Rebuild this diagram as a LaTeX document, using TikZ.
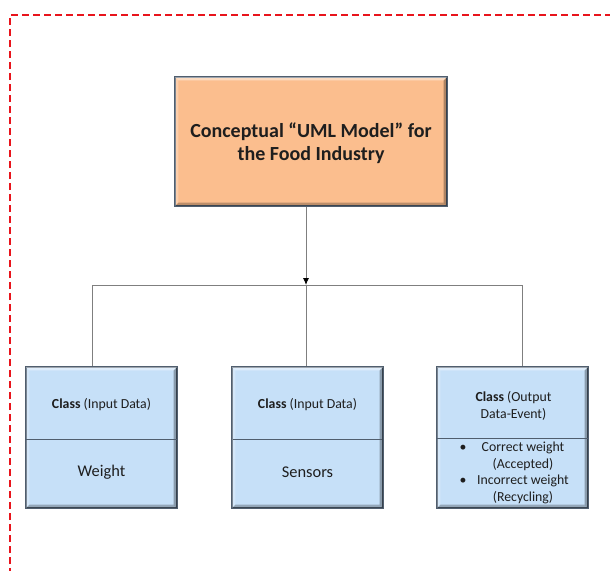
\documentclass[tikz,border=0pt]{standalone}
\usepackage{fontspec}
\setmainfont{Carlito}
\usetikzlibrary{arrows.meta,calc}
\definecolor{orangefill}{HTML}{FBBE8E}
\definecolor{bluefill}{HTML}{C6E0F8}
\definecolor{boxborder}{HTML}{505E6E}
\definecolor{conn}{HTML}{7F7F7F}
\definecolor{txt}{HTML}{1E1E1E}
\definecolor{dashred}{HTML}{E8141C}
\tikzset{
  topbox/.style={draw=boxborder, line width=1.2pt, fill=orangefill, minimum width=272pt, minimum height=129pt, inner sep=0pt},
  classbox/.style={draw=boxborder, line width=1.2pt, fill=bluefill, minimum width=151pt, minimum height=141pt, inner sep=0pt},
  connector/.style={draw=conn, line width=0.9pt},
  label/.style={text=txt, align=center, inner sep=0pt},
  divider/.style={draw=boxborder, line width=0.9pt},
  frame/.style={draw=dashred, line width=1.1pt, dash pattern=on 7pt off 4pt},
}
\newcommand{\bevel}[1]{%
  \fill[white, opacity=0.45] (#1.north west) -- (#1.north east) -- ([shift={(-4,4)}]#1.north east) -- ([shift={(4,4)}]#1.north west) -- cycle;
  \fill[white, opacity=0.25] (#1.north west) -- ([shift={(4,4)}]#1.north west) -- ([shift={(4,-4)}]#1.south west) -- (#1.south west) -- cycle;
  \fill[black, opacity=0.25] (#1.south west) -- (#1.south east) -- ([shift={(-4,-4)}]#1.south east) -- ([shift={(4,-4)}]#1.south west) -- cycle;
  \fill[black, opacity=0.3] (#1.north east) -- (#1.south east) -- ([shift={(-4,-4)}]#1.south east) -- ([shift={(-4,4)}]#1.north east) -- cycle;
  \draw[boxborder, line width=1.2pt] (#1.north west) rectangle (#1.south east);
}
\begin{document}
\begin{tikzpicture}[x=1pt, y=-1pt]
\useasboundingbox (0,0) rectangle (610,570);
\fill[white] (0,0) rectangle (610,570);
% dashed frame
\draw[frame] (10,575) -- (10,15) -- (615,15);

% top box
\node[topbox] (top) at (311,141.5) {};
\bevel{top}
\node[label, font=\bfseries\fontsize{20}{23}\selectfont] (toptext) at (311,143) {Conceptual “UML Model” for\\the Food Industry};

% class boxes
\node[classbox] (c1) at (101.5,437.5) {};
\node[classbox] (c2) at (307.5,437.5) {};
\node[classbox] (c3) at (512.5,437.5) {};
\bevel{c1}
\bevel{c2}
\bevel{c3}
\draw[divider] (26,439) -- (177,439);
\draw[divider] (233,439) -- (382,439);
\draw[divider] (437,438) -- (588,438);

% connectors
\coordinate (junction) at (306,285);
\coordinate (bl) at (92,285);
\coordinate (br) at (522,285);
\draw[connector, -{Latex[length=7pt,width=6pt,black]}] (top.south -| junction) -- (junction);
\draw[connector] (bl) -- (br);
\draw[connector] (bl) -- (c1.north -| bl);
\draw[connector] (junction) -- (c2.north -| junction);
\draw[connector] (br) -- (c3.north -| br);

% texts
\node[label, font=\fontsize{13.8}{16}\selectfont] (t1a) at (101.5,405) {\textbf{Class} (Input Data)};
\node[label, font=\fontsize{16.4}{18}\selectfont] (t1b) at (101.5,472) {Weight};
\node[label, font=\fontsize{13.8}{16}\selectfont] (t2a) at (307.5,405) {\textbf{Class} (Input Data)};
\node[label, font=\fontsize{16.4}{18}\selectfont] (t2b) at (307.5,472) {Sensors};
\node[label, font=\fontsize{13.8}{17}\selectfont] (t3a) at (513.5,405.5) {\textbf{Class} (Output\\Data-Event)};
\node[label, font=\fontsize{13.8}{16.5}\selectfont] (t3b) at (523,473) {Correct weight\\(Accepted)\\Incorrect weight\\(Recycling)};
\node[label, font=\fontsize{13.8}{16}\selectfont] (b1) at (463,448) {•};
\node[label, font=\fontsize{13.8}{16}\selectfont] (b2) at (463,481.5) {•};
\end{tikzpicture}
\end{document}
